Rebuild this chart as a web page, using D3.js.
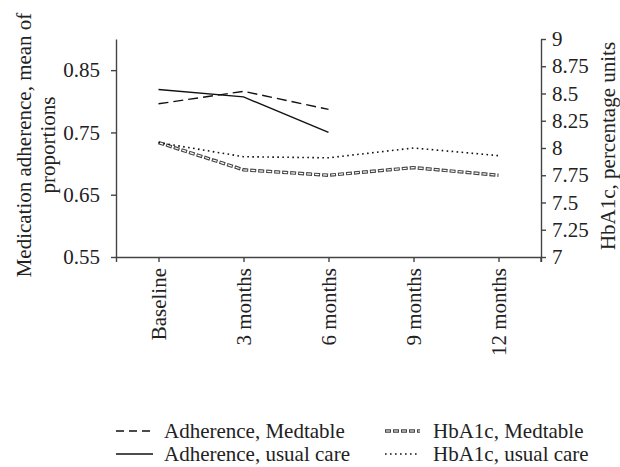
<!DOCTYPE html>
<html>
<head>
<meta charset="utf-8">
<script src="https://cdn.jsdelivr.net/npm/d3@7"></script>
<style>
  body { margin: 0; background: #fff; }
  svg text { font-family: "Liberation Serif", "DejaVu Serif", serif; fill: #222; }
  .axis path, .axis line { stroke: #444; stroke-width: 1.4; }
  .axis text { font-size: 21px; }
</style>
</head>
<body>
<svg id="chart" width="620" height="467"></svg>
<script>
const categories = ['Baseline', '3 months', '6 months', '9 months', '12 months'];
// adherence (left axis), only measured up to 6 months
const adherenceMedtable = [0.796, 0.816, 0.787];
const adherenceUsual = [0.819, 0.807, 0.750];
// HbA1c (right axis)
const hba1cMedtable = [8.05, 7.80, 7.75, 7.82, 7.75];
const hba1cUsual = [8.05, 7.92, 7.91, 8.00, 7.93];
const leftTicks = [0.55, 0.65, 0.75, 0.85];
const rightTicks = [7, 7.25, 7.5, 7.75, 8, 8.25, 8.5, 8.75, 9];

const svg = d3.select('#chart');
const margin = { left: 116, right: 79, top: 39, bottom: 210 };
const width = 620 - margin.left - margin.right,
    height = 467 - margin.top - margin.bottom;

const g = svg.append('g')
    .attr('transform', 'translate(' + margin.left + ',' + margin.top + ')');

const x = d3.scalePoint().domain(categories).range([0, width]).padding(0.5);
const yLeft = d3.scaleLinear().domain([0.55, 0.9]).range([height, 0]);
const yRight = d3.scaleLinear().domain([7, 9]).range([height, 0]);

// axes
g.append('g')
    .attr('class', 'axis')
    .call(d3.axisLeft(yLeft).tickValues(leftTicks).tickFormat(d3.format('.2f')).tickSize(5).tickSizeOuter(0))
    .selectAll('text').attr('x', -16);

g.append('g')
    .attr('class', 'axis')
    .attr('transform', 'translate(' + width + ',0)')
    .call(d3.axisRight(yRight).tickValues(rightTicks).tickFormat(d => String(d)).tickSize(5).tickSizeOuter(0))
    .selectAll('text').attr('x', 11);

const xAxis = g.append('g')
    .attr('class', 'axis')
    .attr('transform', 'translate(0,' + height + ')')
    .call(d3.axisBottom(x).tickSize(5).tickSizeOuter(5));

xAxis.selectAll('.tick text')
    .attr('text-anchor', 'end')
    .attr('transform', 'translate(0,11) rotate(-90)')
    .attr('x', 0).attr('y', 0)
    .attr('dy', '0.33em');

// outer tick at right end of the category axis
xAxis.append('line')
    .attr('x1', width).attr('x2', width)
    .attr('y1', 0).attr('y2', 5)
    .attr('stroke', '#444').attr('stroke-width', 1.4);

// axis titles
const leftTitle = svg.append('text')
    .attr('transform', 'translate(0,' + (margin.top + height / 2 - 3) + ') rotate(-90)')
    .attr('text-anchor', 'middle')
    .style('font-size', '21px');
leftTitle.append('tspan').attr('x', 0).attr('y', 31).text('Medication adherence, mean of');
leftTitle.append('tspan').attr('x', 0).attr('y', 55).text('proportions');

svg.append('text')
    .attr('transform', 'translate(615,' + (margin.top + height / 2 - 2) + ') rotate(-90)')
    .attr('text-anchor', 'middle')
    .style('font-size', '21px')
    .text('HbA1c, percentage units');

// lines
const lineLeft = d3.line().x((d, i) => x(categories[i])).y(d => yLeft(d));
const lineRight = d3.line().x((d, i) => x(categories[i])).y(d => yRight(d));

function drawDouble(sel, d) {
    sel.append('path').attr('d', d).attr('fill', 'none')
        .attr('stroke', '#444').attr('stroke-width', 3.4).attr('stroke-dasharray', '6,2');
    sel.append('path').attr('d', d).attr('fill', 'none')
        .attr('stroke', '#fff').attr('stroke-width', 1.2).attr('stroke-dasharray', '4,4')
        .attr('stroke-dashoffset', -1);
}

drawDouble(g.append('g'), lineRight(hba1cMedtable));

g.append('path')
    .attr('d', lineRight(hba1cUsual))
    .attr('fill', 'none').attr('stroke', '#111').attr('stroke-width', 1.6)
    .attr('stroke-dasharray', '1.6,3.4');

g.append('path')
    .attr('d', lineLeft(adherenceMedtable))
    .attr('fill', 'none').attr('stroke', '#111').attr('stroke-width', 1.4)
    .attr('stroke-dasharray', '10,5');

g.append('path')
    .attr('d', lineLeft(adherenceUsual))
    .attr('fill', 'none').attr('stroke', '#111').attr('stroke-width', 1.4);

// legend
const legendItems = [
    { label: 'Adherence, Medtable', type: 'dash', col: 0, row: 0 },
    { label: 'Adherence, usual care', type: 'solid', col: 0, row: 1 },
    { label: 'HbA1c, Medtable', type: 'double', col: 1, row: 0 },
    { label: 'HbA1c, usual care', type: 'dot', col: 1, row: 1 }
];
const colX = [116, 385], swatchW = [37, 35], textX = [164, 433], rowY = [431, 454];

legendItems.forEach(it => {
    const y = rowY[it.row], x0 = colX[it.col], x1 = x0 + swatchW[it.col];
    const d = 'M' + x0 + ',' + y + 'H' + x1;
    if (it.type === 'double') {
        drawDouble(svg.append('g'), d);
    } else {
        const p = svg.append('path').attr('d', d).attr('fill', 'none')
            .attr('stroke', '#111').attr('stroke-width', it.type === 'dot' ? 1.6 : 1.4);
        if (it.type === 'dash') p.attr('stroke-dasharray', '8,5');
        if (it.type === 'dot') p.attr('stroke-dasharray', '1.6,3.4');
    }
    svg.append('text')
        .attr('x', textX[it.col]).attr('y', y)
        .attr('dy', '0.33em')
        .style('font-size', '21px')
        .text(it.label);
});
</script>
</body>
</html>
